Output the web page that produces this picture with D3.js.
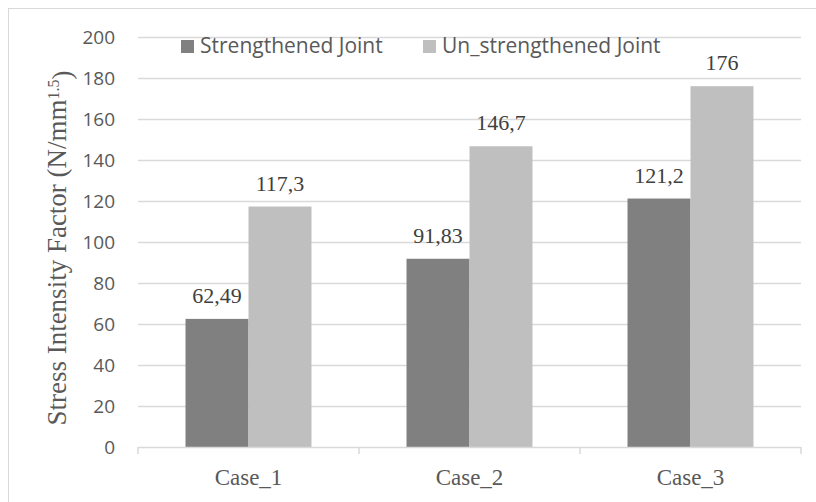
<!DOCTYPE html>
<html><head><meta charset="utf-8">
<script src="https://cdn.jsdelivr.net/npm/d3@7"></script>
<style>body{margin:0;background:#fff}svg{display:block}</style>
</head><body>
<svg id="c" width="816" height="502"></svg>
<script>
const categories = ["Case_1", "Case_2", "Case_3"];
const seriesNames = ["Strengthened Joint", "Un_strengthened Joint"];
const strengthened = [62.49, 91.83, 121.2];
const unstrengthened = [117.3, 146.7, 176];
const valueLabels = [["62,49", "91,83", "121,2"], ["117,3", "146,7", "176"]];
const yTicks = [0, 20, 40, 60, 80, 100, 120, 140, 160, 180, 200];
const colors = ["#808080", "#bfbfbf"];

const svg = d3.select("#c");
const m = {l: 138, r: 15, t: 37, b: 55};
const W = 816, H = 502;
const x0 = d3.scaleBand().domain(categories).range([m.l, W - m.r]).paddingInner(0.43).paddingOuter(0.215);
const x1 = d3.scaleBand().domain([0, 1]).range([0, x0.bandwidth()]);
const y = d3.scaleLinear().domain([0, 200]).range([H - m.b, m.t]);

// outer border
svg.append("rect").attr("x", 8.5).attr("y", 8.5).attr("width", 820).attr("height", 520)
  .attr("fill", "none").attr("stroke", "#d9d9d9");

// gridlines
svg.append("g").selectAll("line").data(yTicks.filter(d => d > 0)).join("line")
  .attr("x1", m.l).attr("x2", W - m.r)
  .attr("y1", d => Math.round(y(d)) + 0.5).attr("y2", d => Math.round(y(d)) + 0.5)
  .attr("stroke", "#d9d9d9").attr("stroke-width", 1.5);

// y tick labels
svg.append("g").selectAll("text").data(yTicks).join("text")
  .attr("x", 115).attr("y", d => y(d)).attr("dy", "0.36em")
  .attr("text-anchor", "end").attr("fill", "#595959")
  .style("font-family", "'Open Sans', sans-serif").style("font-size", "19px")
  .text(d => d);

// bars
const series = [strengthened, unstrengthened];
series.forEach((vals, si) => {
  svg.append("g").selectAll("rect").data(vals).join("rect")
    .attr("x", (d, i) => x0(categories[i]) + x1(si))
    .attr("width", x1.bandwidth())
    .attr("y", d => y(d))
    .attr("height", d => y(0) - y(d))
    .attr("fill", colors[si]);
  svg.append("g").selectAll("text").data(vals).join("text")
    .attr("x", (d, i) => x0(categories[i]) + x1(si) + x1.bandwidth() / 2)
    .attr("y", d => y(d) - 16)
    .attr("text-anchor", "middle").attr("fill", "#404040")
    .style("font-family", "'Liberation Serif', 'Times New Roman', serif").style("font-size", "22px")
    .text((d, i) => valueLabels[si][i]);
});

// x axis
const xa = svg.append("g");
xa.append("line").attr("x1", m.l).attr("x2", W - m.r).attr("y1", y(0) + 0.5).attr("y2", y(0) + 0.5)
  .attr("stroke", "#d9d9d9").attr("stroke-width", 1.5);
const bounds = [m.l].concat(categories.map(c => x0(c) + x0.bandwidth() + x0.step() * 0.43 / 2));
xa.selectAll("line.t").data(bounds).join("line").attr("class", "t")
  .attr("x1", d => d).attr("x2", d => d).attr("y1", y(0)).attr("y2", y(0) + 7)
  .attr("stroke", "#d9d9d9").attr("stroke-width", 1.5);
xa.selectAll("text").data(categories).join("text")
  .attr("x", d => x0(d) + x0.bandwidth() / 2).attr("y", 485)
  .attr("text-anchor", "middle").attr("fill", "#595959")
  .style("font-family", "'Liberation Serif', 'Times New Roman', serif").style("font-size", "23px")
  .text(d => d);

// y axis title
const t = svg.append("text").attr("transform", "translate(66,248) rotate(-90)")
  .attr("text-anchor", "middle").attr("fill", "#595959")
  .style("font-family", "'Liberation Serif', 'Times New Roman', serif").style("font-size", "27px");
t.append("tspan").text("Stress Intensity Factor (N/mm");
t.append("tspan").attr("dy", "-0.45em").style("font-size", "16px").text("1.5");
t.append("tspan").attr("dy", "0.45em").text(")");

// legend
const lg = svg.append("g");
const lx = [181, 423];
seriesNames.forEach((n, i) => {
  lg.append("rect").attr("x", lx[i]).attr("y", 40).attr("width", 13).attr("height", 13).attr("fill", colors[i]);
  lg.append("text").attr("x", lx[i] + 19).attr("y", 53).attr("fill", "#595959")
    .style("font-family", "'Open Sans', sans-serif").style("font-size", "21px").text(n);
});
</script>
</body></html>
